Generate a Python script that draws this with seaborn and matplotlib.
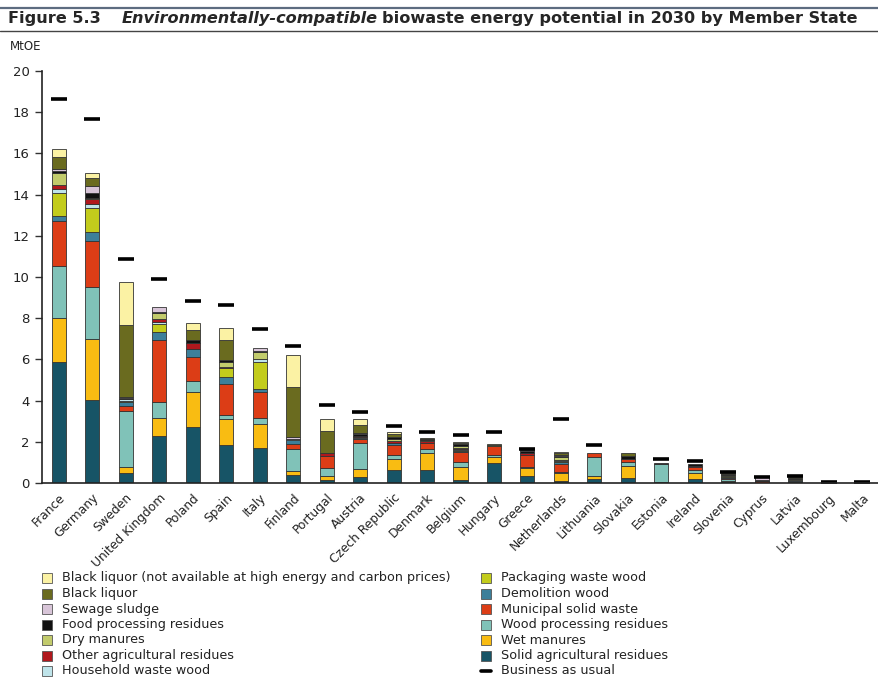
import numpy as np
import matplotlib
matplotlib.use("Agg")
import matplotlib.pyplot as plt
from matplotlib.patches import Rectangle
from matplotlib.lines import Line2D
import seaborn as sns

# ---- data (MtOE) ---------------------------------------------------------
countries = ["France", "Germany", "Sweden", "United Kingdom", "Poland", "Spain",
             "Italy", "Finland", "Portugal", "Austria", "Czech Republic", "Denmark",
             "Belgium", "Hungary", "Greece", "Netherlands", "Lithuania", "Slovakia",
             "Estonia", "Ireland", "Slovenia", "Cyprus", "Latvia", "Luxembourg", "Malta"]

solid_agri = [5.86, 4.01, 0.47, 2.28, 2.72, 1.86, 1.68, 0.37, 0.15, 0.31, 0.62, 0.62, 0.15,
              0.99, 0.34, 0.10, 0.19, 0.26, 0.07, 0.18, 0.05, 0.02, 0.06, 0.01, 0.00]
wet_manures = [2.14, 2.96, 0.29, 0.89, 1.68, 1.23, 1.20, 0.21, 0.21, 0.37, 0.53, 0.82, 0.61,
               0.29, 0.40, 0.37, 0.13, 0.58, 0.00, 0.29, 0.06, 0.00, 0.00, 0.00, 0.00]
wood_processing = [2.55, 2.53, 2.72, 0.78, 0.57, 0.21, 0.29, 1.09, 0.38, 1.28, 0.22, 0.23, 0.27,
                   0.07, 0.05, 0.07, 0.93, 0.16, 0.84, 0.16, 0.08, 0.00, 0.05, 0.00, 0.00]
municipal_waste = [2.18, 2.26, 0.26, 2.99, 1.16, 1.49, 1.23, 0.21, 0.59, 0.16, 0.49, 0.26, 0.46,
                   0.45, 0.55, 0.37, 0.22, 0.15, 0.00, 0.16, 0.06, 0.06, 0.00, 0.02, 0.02]
demolition_wood = [0.25, 0.41, 0.21, 0.41, 0.37, 0.37, 0.15, 0.21, 0.00, 0.08, 0.06, 0.00, 0.06,
                   0.00, 0.00, 0.10, 0.00, 0.00, 0.00, 0.00, 0.04, 0.00, 0.03, 0.00, 0.00]
packaging_wood = [1.11, 1.16, 0.05, 0.35, 0.00, 0.41, 1.34, 0.00, 0.00, 0.00, 0.00, 0.00, 0.05,
                  0.05, 0.00, 0.07, 0.00, 0.00, 0.00, 0.00, 0.04, 0.00, 0.00, 0.00, 0.00]
household_wood = [0.17, 0.21, 0.10, 0.13, 0.00, 0.00, 0.11, 0.05, 0.00, 0.05, 0.03, 0.00, 0.03,
                  0.00, 0.00, 0.02, 0.00, 0.00, 0.00, 0.00, 0.00, 0.00, 0.00, 0.00, 0.00]
other_agri = [0.19, 0.23, 0.00, 0.13, 0.28, 0.05, 0.03, 0.00, 0.14, 0.05, 0.07, 0.10, 0.05,
              0.00, 0.13, 0.04, 0.00, 0.00, 0.00, 0.05, 0.00, 0.04, 0.00, 0.00, 0.00]
dry_manures = [0.58, 0.08, 0.00, 0.31, 0.00, 0.24, 0.35, 0.00, 0.00, 0.00, 0.13, 0.07, 0.12,
               0.05, 0.00, 0.10, 0.00, 0.00, 0.00, 0.00, 0.05, 0.00, 0.04, 0.00, 0.00]
food_processing = [0.13, 0.21, 0.02, 0.05, 0.16, 0.11, 0.05, 0.02, 0.00, 0.08, 0.07, 0.04, 0.08,
                   0.00, 0.08, 0.09, 0.00, 0.16, 0.05, 0.08, 0.05, 0.03, 0.04, 0.02, 0.02]
sewage_sludge = [0.10, 0.36, 0.05, 0.24, 0.00, 0.00, 0.14, 0.05, 0.00, 0.03, 0.03, 0.00, 0.02,
                 0.00, 0.05, 0.05, 0.00, 0.00, 0.00, 0.00, 0.00, 0.14, 0.00, 0.00, 0.00]
black_liquor = [0.58, 0.37, 3.49, 0.00, 0.49, 0.97, 0.00, 2.47, 1.05, 0.41, 0.15, 0.03, 0.06,
                0.00, 0.00, 0.06, 0.00, 0.13, 0.00, 0.00, 0.05, 0.00, 0.06, 0.00, 0.00]
black_liquor_na = [0.36, 0.24, 2.12, 0.00, 0.35, 0.57, 0.00, 1.53, 0.58, 0.27, 0.09, 0.00, 0.04,
                   0.00, 0.00, 0.08, 0.00, 0.00, 0.00, 0.00, 0.00, 0.00, 0.00, 0.00, 0.00]
business_as_usual = [18.64, 17.65, 10.89, 9.90, 8.83, 8.64, 7.46, 6.67, 3.77, 3.45, 2.77, 2.49,
                     2.31, 2.48, 1.67, 3.09, 1.84, np.nan, 1.18, 1.07, 0.52, 0.30, 0.32, 0.06, 0.06]

# stacking order, bottom to top
series_labels = ["Solid agricultural residues", "Wet manures", "Wood processing residues",
                 "Municipal solid waste", "Demolition wood", "Packaging waste wood",
                 "Household waste wood", "Other agricultural residues", "Dry manures",
                 "Food processing residues", "Sewage sludge", "Black liquor",
                 "Black liquor (not available at high energy and carbon prices)"]
series_values = [solid_agri, wet_manures, wood_processing, municipal_waste, demolition_wood,
                 packaging_wood, household_wood, other_agri, dry_manures, food_processing,
                 sewage_sludge, black_liquor, black_liquor_na]
series_colors = ["#175466", "#f9bc12", "#80c2b8", "#dc3d16", "#3c7f9a", "#c3cc1c",
                 "#bfe4ea", "#b0181d", "#c2cb6c", "#111111", "#d8c5d8", "#6a6b1f", "#fbf2a4"]
bau_label = "Business as usual"

# ---- figure ------------------------------------------------------------
W, H = 879, 679
sns.set_style("white")
plt.rcParams["font.family"] = ["DejaVu Sans"]
fig = plt.figure(figsize=(W / 100, H / 100), dpi=100)
ax = fig.add_axes([42 / W, 1 - 483 / H, (W - 42) / W, (483 - 71) / H])

bottom = np.zeros(len(countries))
for label, vals, col in zip(series_labels, series_values, series_colors):
    vals = np.asarray(vals, dtype=float)
    keep = vals > 0
    sns.barplot(x=[c for c, k in zip(countries, keep) if k], y=vals[keep],
                bottom=bottom[keep], order=countries, color=col, saturation=1,
                width=0.42, edgecolor="#333333", linewidth=0.6, errorbar=None, ax=ax)
    bottom += vals

sns.pointplot(x=countries, y=business_as_usual, order=countries, color="black",
              linestyle="none", marker="_", markersize=12, markeredgewidth=2.6,
              errorbar=None, ax=ax)

ax.set_xlim(-0.5, 24.3)
ax.set_ylim(0, 20)
ax.set_yticks(np.arange(0, 21, 2))
ax.set_yticklabels([str(v) for v in range(0, 21, 2)], fontsize=9.5, color="#222222")
ax.set_xticks(np.arange(len(countries)))
ax.set_xticklabels(countries, rotation=45, ha="right", rotation_mode="anchor",
                   fontsize=8.8, color="#222222")
ax.set_xticks(np.arange(-0.5, len(countries), 1), minor=True)
ax.tick_params(axis="x", which="major", length=0, pad=6)
ax.tick_params(axis="x", which="minor", length=5, width=1, color="#333333", direction="out")
ax.tick_params(axis="y", length=5, width=1, color="#333333", direction="out", pad=4, left=True)
ax.set_xlabel("")
ax.set_ylabel("")
for side in ("top", "right"):
    ax.spines[side].set_visible(False)
for side in ("left", "bottom"):
    ax.spines[side].set_color("#222222")
    ax.spines[side].set_linewidth(1.2)
ax.grid(False)

# unit label
fig.text(10 / W, 1 - 46 / H, "MtOE", fontsize=8.5, color="#222222", va="center", ha="left")

# title rules
fig.add_artist(Line2D([0, 1], [1 - 8 / H, 1 - 8 / H], color="#5d6c80", lw=1.6))
fig.add_artist(Line2D([0, 1], [1 - 31 / H, 1 - 31 / H], color="#444444", lw=1.0))

# title made of three runs of text
renderer = fig.canvas.get_renderer()
ty = 1 - 19 / H
tsize = 11.6
fig.text(8 / W, ty, "Figure 5.3", fontsize=tsize, fontweight="bold", va="center")
t2 = fig.text(122 / W, ty, "Environmentally-compatible", fontsize=tsize, fontweight="bold",
              style="italic", va="center")
bb = t2.get_window_extent(renderer)
fig.text(bb.x1 / W + 4 / W, ty, "biowaste energy potential in 2030 by Member State",
         fontsize=tsize, fontweight="bold", va="center")

# legend in two columns, top-to-bottom reverse of the stack
legend_labels = series_labels[::-1] + [bau_label]
legend_colors = series_colors[::-1] + [None]
for i, (lab, col) in enumerate(zip(legend_labels, legend_colors)):
    column, row = divmod(i, 7)
    xs = [42, 481][column]
    yc = 578 + row * 15.5
    if col is not None:
        fig.add_artist(Rectangle((xs / W, 1 - (yc + 5) / H), 10 / W, 10 / H,
                                 facecolor=col, edgecolor="#555555", lw=0.6))
    else:
        fig.add_artist(Line2D([(xs) / W, (xs + 10) / W], [1 - yc / H, 1 - yc / H],
                              color="black", lw=2.6))
    fig.text((xs + 20) / W, 1 - yc / H, lab, fontsize=9.2, color="#222222",
             va="center", ha="left")

fig.savefig("out.png", dpi=100)
